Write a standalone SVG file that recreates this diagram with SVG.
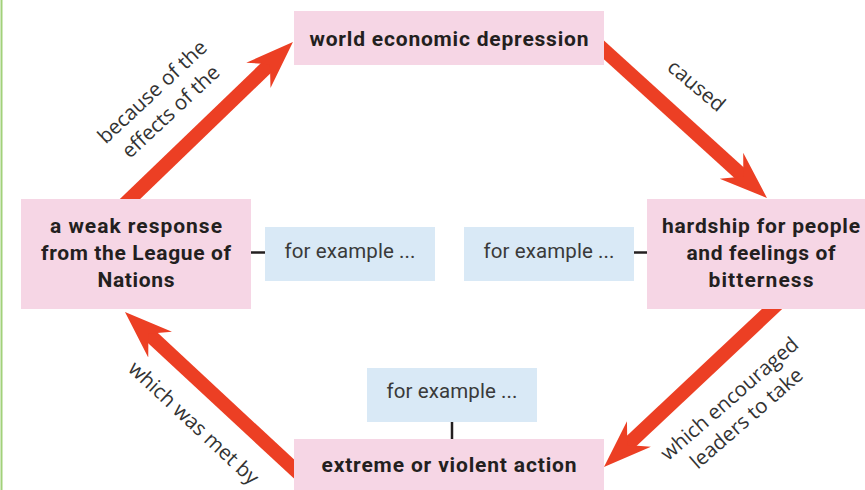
<svg xmlns="http://www.w3.org/2000/svg" width="865" height="490" viewBox="0 0 865 490">
<defs>
<style>
.pink{fill:#f6d6e5}
.blue{fill:#d9e9f6}
.bold{font-family:Roboto,"Liberation Sans",sans-serif;font-weight:bold;font-size:21px;fill:#231f20;text-anchor:middle}
.ex{font-family:Roboto,"Liberation Sans",sans-serif;font-size:20.5px;fill:#3a3a3a;text-anchor:middle}
.lab{font-family:"Open Sans","Noto Sans",sans-serif;font-size:20.5px;fill:#333333;text-anchor:middle}
.arr{stroke:#ec3f24;stroke-width:14;fill:none;marker-end:url(#ah)}
.tick{stroke:#231f20;stroke-width:2.5}
</style>
<marker id="ah" markerUnits="userSpaceOnUse" markerWidth="50" markerHeight="36" refX="26" refY="17.5" orient="auto">
<path d="M0,0 L48,17.5 L0,35 L16,17.5 Z" fill="#ec3f24"/>
</marker>
</defs>
<rect width="865" height="490" fill="#ffffff"/>
<line x1="1.5" y1="0" x2="1.5" y2="490" stroke="#a2d17a" stroke-width="2"/>
<g id="connectors">
<line class="arr" x1="115.6" y1="212.9" x2="277.1" y2="57.3"/>
<line class="arr" x1="592.9" y1="39.9" x2="750.7" y2="183.2"/>
<line class="arr" x1="781.9" y1="299.7" x2="620" y2="451.9"/>
<line class="arr" x1="305" y1="479.2" x2="141.1" y2="327"/>
<line class="tick" x1="251" y1="252.5" x2="265" y2="252.5"/>
<line class="tick" x1="634" y1="252.5" x2="647" y2="252.5"/>
<line class="tick" x1="452" y1="422" x2="452" y2="439"/>
<g transform="translate(157,97) rotate(-43)"><text class="lab" x="0" y="0">because of the</text><text class="lab" x="0" y="27">effects of the</text></g>
<g transform="translate(692,91) rotate(40)"><text class="lab" x="0" y="0">caused</text></g>
<g transform="translate(734,404) rotate(-41)"><text class="lab" x="0" y="0">which encouraged</text><text class="lab" x="0" y="26">leaders to take</text></g>
<g transform="translate(189,428) rotate(43)"><text class="lab" x="0" y="0">which was met by</text></g>
</g>
<g id="node-depression">
<rect class="pink" x="294" y="11" width="310" height="54"/>
<text class="bold" x="449" y="46" textLength="279">world economic depression</text>
</g>
<g id="node-hardship">
<rect class="pink" x="647" y="199" width="230" height="110"/>
<text class="bold" x="761" y="233" textLength="198">hardship for people</text>
<text class="bold" x="761" y="260" textLength="149">and feelings of</text>
<text class="bold" x="761" y="287" textLength="105">bitterness</text>
</g>
<g id="node-extreme">
<rect class="pink" x="294" y="439" width="310" height="55"/>
<text class="bold" x="449" y="472" textLength="255">extreme or violent action</text>
</g>
<g id="node-league">
<rect class="pink" x="21" y="199" width="230" height="110"/>
<text class="bold" x="136" y="233" textLength="172">a weak response</text>
<text class="bold" x="136" y="260" textLength="190">from the League of</text>
<text class="bold" x="136" y="287" textLength="77">Nations</text>
</g>
<g id="example-left">
<rect class="blue" x="265" y="227" width="170" height="54"/>
<text class="ex" x="350" y="258" textLength="131">for example ...</text>
</g>
<g id="example-right">
<rect class="blue" x="464" y="227" width="170" height="54"/>
<text class="ex" x="549" y="258" textLength="131">for example ...</text>
</g>
<g id="example-bottom">
<rect class="blue" x="367" y="368" width="170" height="54"/>
<text class="ex" x="452" y="398" textLength="131">for example ...</text>
</g>
</svg>
